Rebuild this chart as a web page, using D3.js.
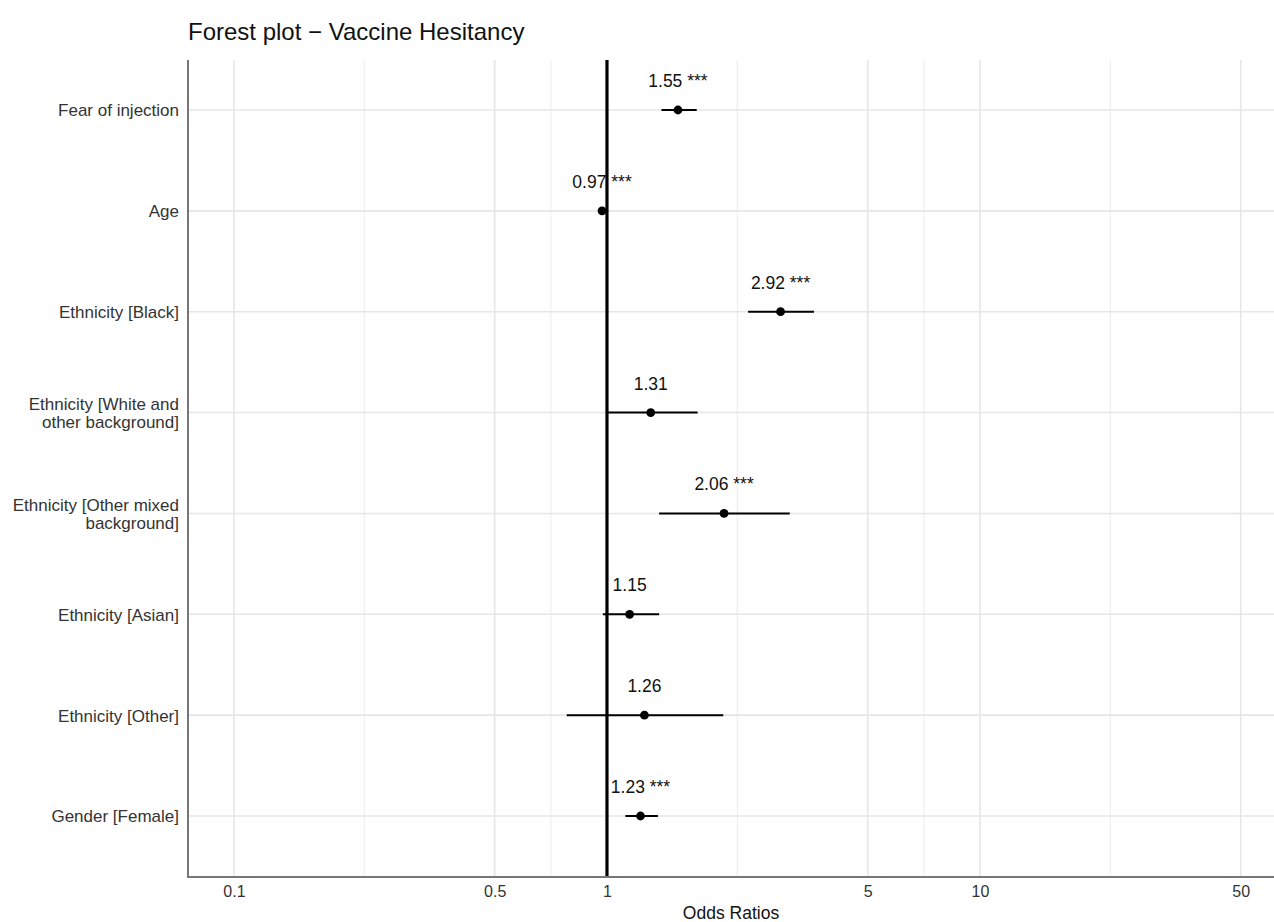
<!DOCTYPE html>
<html>
<head>
<meta charset="utf-8">
<script src="https://cdn.jsdelivr.net/npm/d3@7"></script>
<style>
  body { margin: 0; background: #fff; }
  svg { font-family: "Liberation Sans", Arial, sans-serif; }
</style>
</head>
<body>
<svg id="chart" width="1274" height="922"></svg>
<script>
// terms, top to bottom
var terms = [
  "Fear of injection",
  "Age",
  "Ethnicity [Black]",
  "Ethnicity [White and|other background]",
  "Ethnicity [Other mixed|background]",
  "Ethnicity [Asian]",
  "Ethnicity [Other]",
  "Gender [Female]"
];
var estimates = [1.55, 0.97, 2.92, 1.31, 2.06, 1.15, 1.26, 1.23];
var ciLow     = [1.40, 0.96, 2.39, 1.00, 1.38, 0.975, 0.78, 1.12];
var ciHigh    = [1.74, 0.98, 3.59, 1.75, 3.09, 1.38, 2.05, 1.37];
var stars     = ["***", "***", "***", "", "***", "", "", "***"];
var xTicks    = [0.1, 0.5, 1, 5, 10, 50];

var svg = d3.select('#chart');
var pLeft = 188, pRight = 1274, pTop = 60, pBottom = 877;

var x = d3.scaleLog().domain([0.0753, 61.4]).range([pLeft, pRight]);
var y = d3.scalePoint().domain(terms).range([110, 816]);

// minor grid: halfway between major breaks on the log scale
var minor = [];
for (var i = 0; i < xTicks.length - 1; i++) {
  minor.push(Math.sqrt(xTicks[i] * xTicks[i + 1]));
}

var grid = svg.append('g');
grid.selectAll('line.minor').data(minor).enter().append('line')
  .attr('x1', function(d){ return x(d); })
  .attr('x2', function(d){ return x(d); })
  .attr('y1', pTop).attr('y2', pBottom)
  .attr('stroke', '#efefef').attr('stroke-width', 1.2);
grid.selectAll('line.major').data(xTicks).enter().append('line')
  .attr('x1', function(d){ return x(d); })
  .attr('x2', function(d){ return x(d); })
  .attr('y1', pTop).attr('y2', pBottom)
  .attr('stroke', '#e6e6e6').attr('stroke-width', 1.6);
grid.selectAll('line.row').data(terms).enter().append('line')
  .attr('x1', pLeft).attr('x2', pRight)
  .attr('y1', function(d){ return y(d); })
  .attr('y2', function(d){ return y(d); })
  .attr('stroke', '#e6e6e6').attr('stroke-width', 1.6);

// reference line at 1
svg.append('line')
  .attr('x1', x(1)).attr('x2', x(1))
  .attr('y1', pTop).attr('y2', pBottom)
  .attr('stroke', '#000').attr('stroke-width', 3.2);

// axes
var xAxis = svg.append('g')
  .attr('transform', 'translate(0,' + pBottom + ')')
  .call(d3.axisBottom(x).tickValues(xTicks).tickFormat(function(d){ return d; }).tickSize(0).tickPadding(9));
xAxis.select('.domain').remove();
xAxis.selectAll('text').attr('font-size', 16).attr('fill', '#333')
  .attr('font-family', '"Liberation Sans", Arial, sans-serif');

var yAxis = svg.append('g')
  .attr('transform', 'translate(' + pLeft + ',0)')
  .call(d3.axisLeft(y).tickSize(0).tickFormat(''));
yAxis.select('.domain').remove();
yAxis.selectAll('.tick').each(function(d){
  var lines = d.split('|');
  var t = d3.select(this).append('text')
    .attr('x', -9).attr('text-anchor', 'end')
    .attr('font-size', 17).attr('fill', '#333');
  lines.forEach(function(s, k){
    t.append('tspan').attr('x', -9)
      .attr('y', (k - (lines.length - 1) / 2) * 17.5)
      .attr('dy', '0.35em').text(s);
  });
});

// axis lines over the full panel
svg.append('line').attr('x1', pLeft).attr('x2', pLeft)
  .attr('y1', pTop).attr('y2', pBottom + 1)
  .attr('stroke', '#777').attr('stroke-width', 2);
svg.append('line').attr('x1', pLeft - 1).attr('x2', pRight)
  .attr('y1', pBottom).attr('y2', pBottom)
  .attr('stroke', '#777').attr('stroke-width', 2);

// error bars, points, labels
var rows = terms.map(function(t, i){
  return { term: t, est: estimates[i], lo: ciLow[i], hi: ciHigh[i], star: stars[i] };
});
var g = svg.append('g');
g.selectAll('line.ci').data(rows).enter().append('line')
  .attr('x1', function(d){ return x(d.lo); })
  .attr('x2', function(d){ return x(d.hi); })
  .attr('y1', function(d){ return y(d.term); })
  .attr('y2', function(d){ return y(d.term); })
  .attr('stroke', '#000').attr('stroke-width', 2);
g.selectAll('circle').data(rows).enter().append('circle')
  .attr('cx', function(d){ return x(d.est); })
  .attr('cy', function(d){ return y(d.term); })
  .attr('r', 4.4).attr('fill', '#000');
g.selectAll('text').data(rows).enter().append('text')
  .attr('x', function(d){ return x(d.est); })
  .attr('y', function(d){ return y(d.term) - 23; })
  .attr('text-anchor', 'middle')
  .attr('font-size', 17.5).attr('fill', '#111')
  .text(function(d){ return d3.format('.2f')(d.est) + (d.star ? ' ' + d.star : ''); });

// title and axis title
svg.append('text').attr('x', 188).attr('y', 40)
  .attr('font-size', 24).attr('fill', '#111')
  .text('Forest plot \u2212 Vaccine Hesitancy');
svg.append('text').attr('x', (pLeft + pRight) / 2).attr('y', 919)
  .attr('text-anchor', 'middle').attr('font-size', 17.5).attr('fill', '#111')
  .text('Odds Ratios');
</script>
</body>
</html>
